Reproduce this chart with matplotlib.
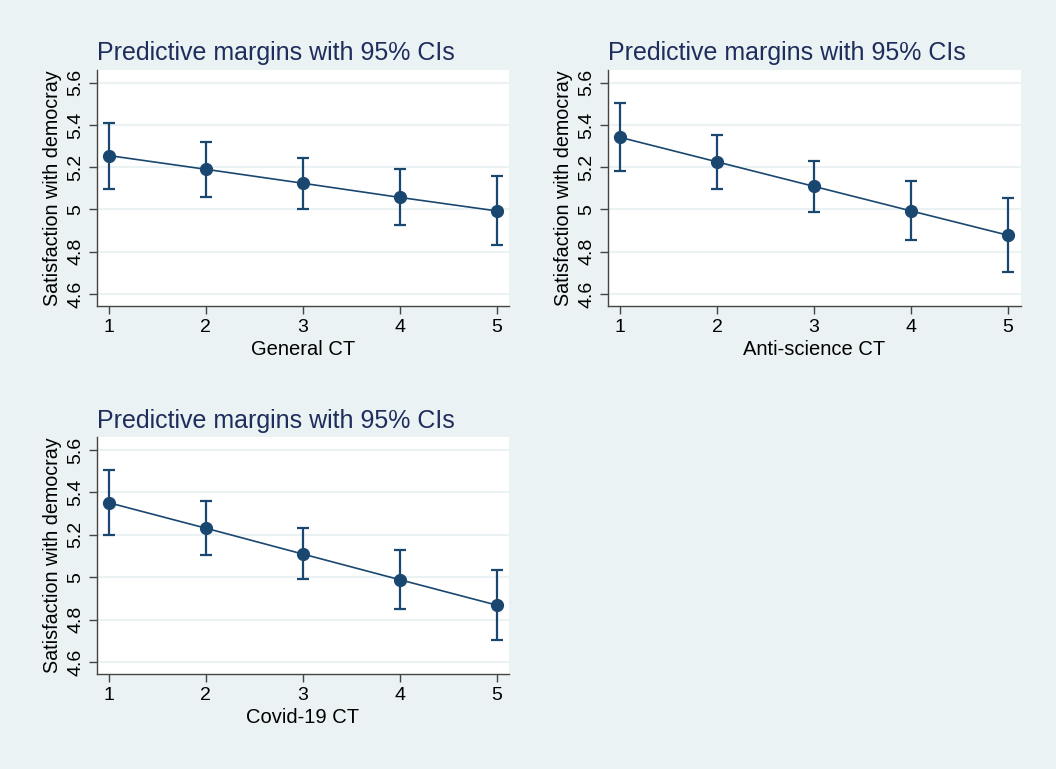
import matplotlib

matplotlib.use("Agg")
import matplotlib.pyplot as plt

plt.rcParams["font.family"] = ["Liberation Sans", "DejaVu Sans"]

BG = "#eaf2f3"
NAVY = "#1a476f"
TITLE_COLOR = "#1e2d5c"

levels = [1, 2, 3, 4, 5]

general_margin = [5.255, 5.190, 5.124, 5.057, 4.993]
general_lo = [5.098, 5.061, 5.004, 4.925, 4.830]
general_hi = [5.411, 5.319, 5.245, 5.193, 5.158]

antisci_margin = [5.341, 5.225, 5.109, 4.993, 4.878]
antisci_lo = [5.180, 5.095, 4.988, 4.855, 4.704]
antisci_hi = [5.502, 5.354, 5.229, 5.133, 5.054]

covid_margin = [5.351, 5.231, 5.109, 4.988, 4.868]
covid_lo = [5.198, 5.103, 4.990, 4.852, 4.703]
covid_hi = [5.505, 5.360, 5.233, 5.126, 5.035]

y_ticks = [4.6, 4.8, 5.0, 5.2, 5.4, 5.6]
y_ticklabels = ["4.6", "4.8", "5", "5.2", "5.4", "5.6"]
title = "Predictive margins with 95% CIs"
ylabel = "Satisfaction with democray"

W, H = 1056, 769


def _panel(fig, rect_px, margin, lo, hi, xlabel):
    left, top, right, bottom = rect_px
    ax = fig.add_axes([left / W, 1 - bottom / H, (right - left) / W, (bottom - top) / H])
    ax.set_facecolor("white")
    yerr = [[m - l for m, l in zip(margin, lo)], [h - m for m, h in zip(margin, hi)]]
    ax.errorbar(levels, margin, yerr=yerr, color=NAVY, lw=1.2, marker="o", ms=8.5,
                elinewidth=1.6, capsize=4, capthick=1.6, zorder=3)
    ax.set_xlim(0.873, 5.131)
    ax.set_ylim(4.543, 5.66)
    ax.set_xticks(levels)
    ax.set_yticks(y_ticks)
    ax.set_yticklabels(y_ticklabels, rotation=90, va="center")
    ax.grid(axis="y", color=BG, lw=1.5, zorder=0)
    for side in ("top", "right"):
        ax.spines[side].set_visible(False)
    for side in ("left", "bottom"):
        ax.spines[side].set_color("#444444")
        ax.spines[side].set_linewidth(1.0)
    ax.tick_params(axis="both", length=6, width=1.0, color="#444444", labelsize=14, pad=3)
    ax.set_xlabel(xlabel, fontsize=14.5, labelpad=3)
    ax.set_ylabel(ylabel, fontsize=14.2, labelpad=4)
    ax.set_title(title, loc="left", fontsize=18, color=TITLE_COLOR, pad=7)
    return ax


fig = plt.figure(figsize=(W / 100, H / 100), dpi=100)
fig.patch.set_facecolor(BG)

_panel(fig, (96.7, 70, 509.4, 306), general_margin, general_lo, general_hi, "General CT")
_panel(fig, (608, 70, 1020.7, 306), antisci_margin, antisci_lo, antisci_hi, "Anti-science CT")
_panel(fig, (96.7, 437.3, 509.4, 674), covid_margin, covid_lo, covid_hi, "Covid-19 CT")

fig.savefig("out.png", dpi=100, facecolor=BG)
plt.close(fig)
